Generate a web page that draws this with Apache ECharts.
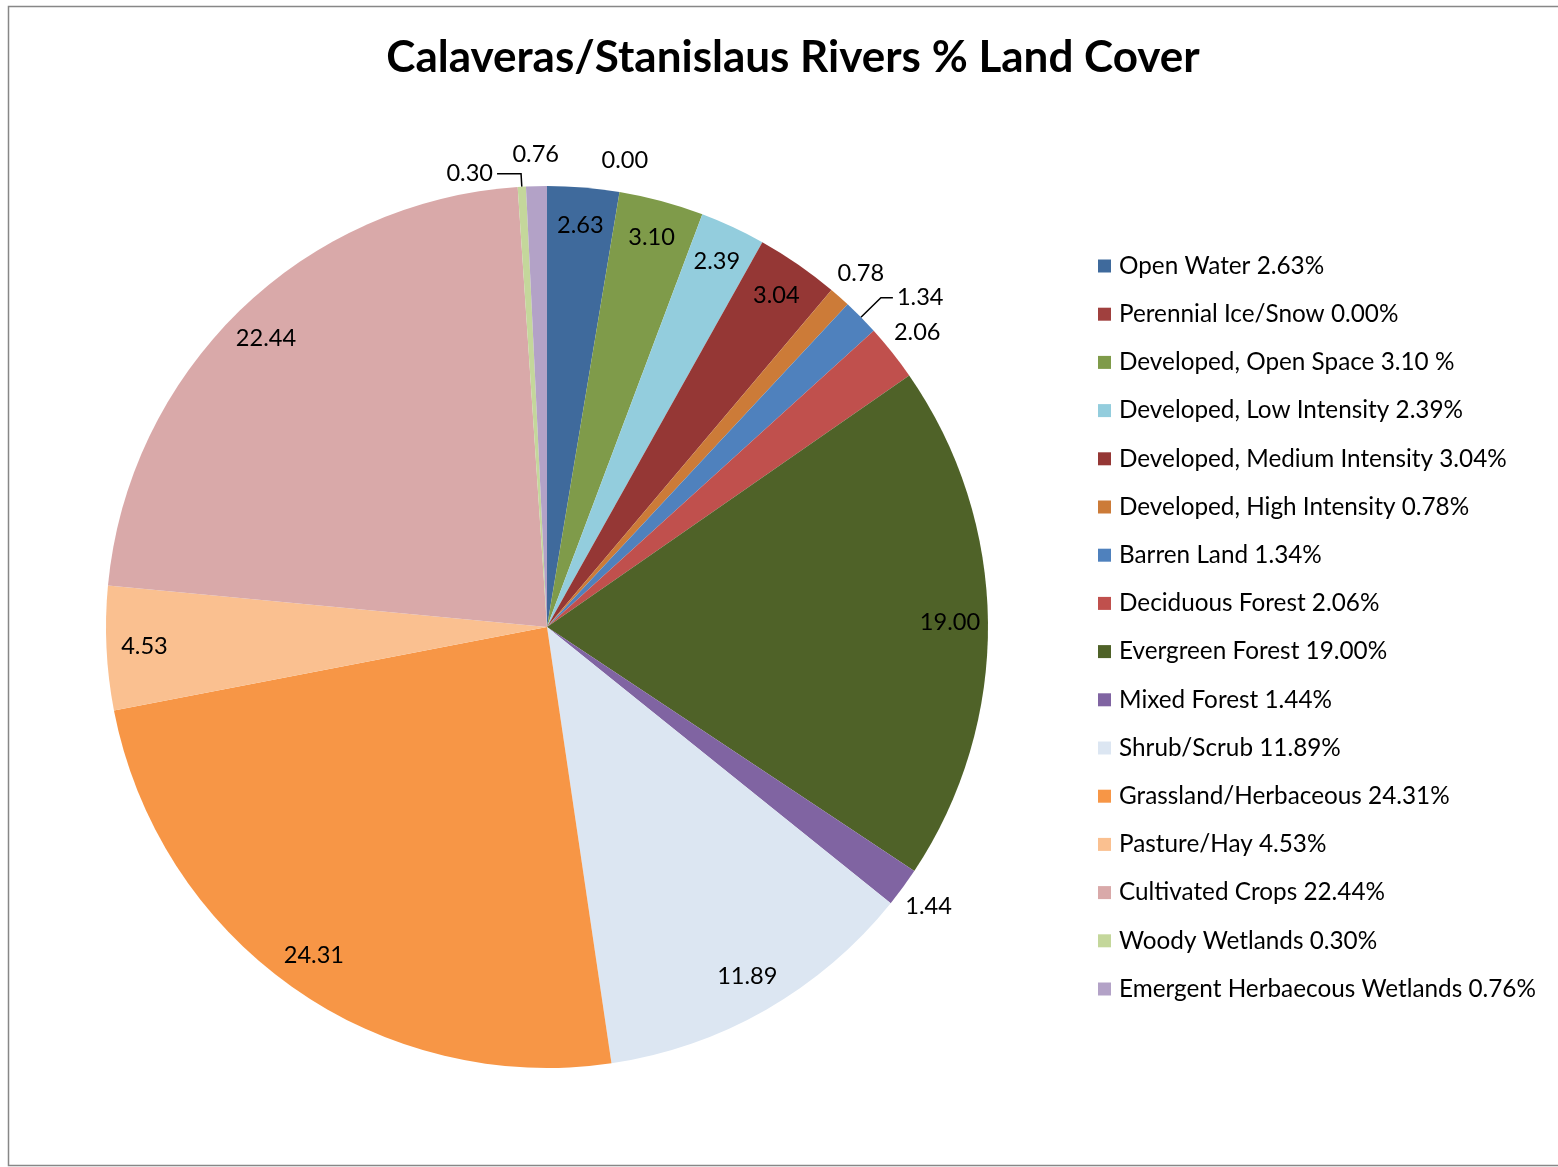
<!DOCTYPE html>
<html><head><meta charset="utf-8">
<script src="https://cdn.jsdelivr.net/npm/echarts@6/dist/echarts.min.js"></script>
<style>html,body{margin:0;padding:0;background:#fff}#c{width:1558px;height:1167px}</style>
</head><body><div id="c"></div>
<script>
var categories = ['Open Water','Perennial Ice/Snow','Developed, Open Space','Developed, Low Intensity','Developed, Medium Intensity','Developed, High Intensity','Barren Land','Deciduous Forest','Evergreen Forest','Mixed Forest','Shrub/Scrub','Grassland/Herbaceous','Pasture/Hay','Cultivated Crops','Woody Wetlands','Emergent Herbaecous Wetlands'];
var values = [2.63,0.00,3.10,2.39,3.04,0.78,1.34,2.06,19.00,1.44,11.89,24.31,4.53,22.44,0.30,0.76];
var legendSuffix = ['2.63%','0.00%','3.10 %','2.39%','3.04%','0.78%','1.34%','2.06%','19.00%','1.44%','11.89%','24.31%','4.53%','22.44%','0.30%','0.76%'];
var colors = ['#3F6A9C','#A0403E','#7F9B4A','#93CDDD','#953735','#CC7B38','#4F81BD','#C0504D','#4F6228','#8064A2','#DCE6F2','#F79646','#FAC090','#D9A9A9','#C4D79B','#B3A2C7'];
// label placement kind per slice: 'in' inside near edge, 'out' just outside, 'line' outside with leader line
var labelKind = ['in','out','in','in','in','out','line','out','in','out','in','in','in','in','line','out'];

var FONT = 'Lato';
var LFS = 24.3;
var FS = 23.6;
var chart = echarts.init(document.getElementById('c'));
var center = [547, 627];
var R = 441;
// leader line styling for the two labels drawn with leader lines
var leaderStyle = {
  'Barren Land': {length: 28, length2: 12},
  'Woody Wetlands': {length: 13, length2: 24}
};

function mk(kind, transparent) {
  return categories.map(function(n, i){
    var show = labelKind[i] === kind;
    var ll = {show: show};
    if (show && leaderStyle[n]) { ll.length = leaderStyle[n].length; ll.length2 = leaderStyle[n].length2; }
    return {
      name: n, value: values[i],
      itemStyle: {color: transparent ? 'rgba(0,0,0,0)' : colors[i]},
      label: {show: show},
      labelLine: ll
    };
  });
}
var labelFmt = function(p){ return p.value.toFixed(2); };

chart.setOption({
  animation: false,
  title: {
    text: 'Calaveras/Stanislaus Rivers % Land Cover',
    left: 788, top: 31, textAlign: 'center',
    textStyle: {fontFamily: FONT, fontWeight: 'bold', fontSize: 44, color: '#000'}
  },
  graphic: [{
    type: 'rect', shape: {x: 8.5, y: 6.5, width: 1560, height: 1159},
    style: {fill: 'none', stroke: '#878787', lineWidth: 1.5}, silent: true
  }],
  legend: {
    orient: 'vertical', left: 1098, top: 254, padding: 0,
    icon: 'rect', itemWidth: 13, itemHeight: 13, itemGap: 24.2,
    data: categories,
    formatter: function(name){ return name + ' ' + legendSuffix[categories.indexOf(name)]; },
    textStyle: {fontFamily: FONT, fontSize: LFS, color: '#000', lineHeight: 24, padding: [0,0,0,3]}
  },
  series: [
    {
      type: 'pie', center: center, radius: [0, R], startAngle: 90, clockwise: true,
      silent: true, avoidLabelOverlap: false,
      label: {position: 'outside', formatter: labelFmt, fontFamily: FONT, fontSize: FS, color: '#000', distanceToLabelLine: 4},
      labelLine: {length: 20, length2: 12, lineStyle: {color: '#000', width: 1.5}},
      data: mk('line', false)
    },
    {
      type: 'pie', center: center, radius: [359, R], startAngle: 90, clockwise: true,
      silent: true, avoidLabelOverlap: false,
      label: {position: 'inside', formatter: labelFmt, fontFamily: FONT, fontSize: FS, color: '#000'},
      data: mk('in', true)
    },
    {
      type: 'pie', center: center, radius: [R, 499], startAngle: 90, clockwise: true,
      silent: true, avoidLabelOverlap: false,
      label: {position: 'inside', formatter: labelFmt, fontFamily: FONT, fontSize: FS, color: '#000'},
      labelLine: {show: false},
      data: mk('out', true)
    }
  ]
});
</script>
</body></html>
